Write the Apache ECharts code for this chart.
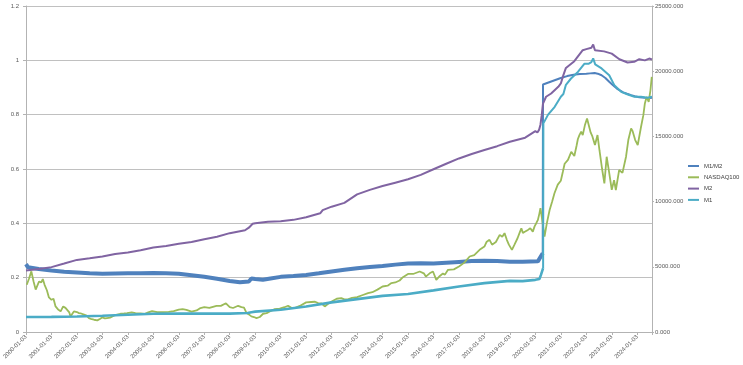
<!DOCTYPE html>
<html><head><meta charset="utf-8">
<script src="https://cdn.jsdelivr.net/npm/echarts@6/dist/echarts.min.js"></script>
<style>html,body{margin:0;padding:0;background:#fff}#c{width:743px;height:365px}</style>
</head><body><div id="c"></div>
<script>
// x positions are decimal years
const yearLabels = ['2000-01-03','2001-01-03','2002-01-03','2003-01-03','2004-01-03','2005-01-03','2006-01-03','2007-01-03','2008-01-03','2009-01-03','2010-01-03','2011-01-03','2012-01-03','2013-01-03','2014-01-03','2015-01-03','2016-01-03','2017-01-03','2018-01-03','2019-01-03','2020-01-03','2021-01-03','2022-01-03','2023-01-03','2024-01-03'];

// M1/M2 ratio (left axis)
const ratioT = [2000.00,2000.08,2000.5,2001.0,2001.5,2002.0,2002.5,2003.0,2003.5,2004.0,2004.5,2005.0,2005.5,2006.0,2006.5,2007.0,2007.5,2008.0,2008.4,2008.75,2008.85,2009.0,2009.3,2009.6,2010.0,2010.5,2011.0,2011.5,2012.0,2012.5,2013.0,2013.5,2014.0,2014.5,2015.0,2015.5,2016.0,2016.5,2017.0,2017.5,2018.0,2018.5,2019.0,2019.5,2020.1,2020.2,2020.29,2020.30,2021.0,2021.25,2021.5,2021.75,2022.0,2022.15,2022.33,2022.45,2022.6,2022.75,2022.9,2023.05,2023.2,2023.3,2023.45,2023.6,2023.76,2023.9,2024.08,2024.3,2024.47,2024.58];
const ratioV = [0.250,0.238,0.232,0.226,0.222,0.219,0.216,0.214,0.215,0.216,0.216,0.217,0.216,0.214,0.209,0.203,0.196,0.188,0.183,0.186,0.197,0.195,0.192,0.197,0.203,0.206,0.210,0.216,0.223,0.229,0.235,0.239,0.243,0.248,0.252,0.253,0.252,0.255,0.258,0.261,0.262,0.261,0.259,0.259,0.260,0.276,0.290,0.911,0.935,0.942,0.947,0.950,0.951,0.952,0.953,0.951,0.945,0.935,0.921,0.908,0.896,0.890,0.882,0.877,0.872,0.868,0.864,0.862,0.861,0.862];

// NASDAQ100 (right axis)
const ndxT = [2000.03,2000.12,2000.21,2000.30,2000.38,2000.51,2000.60,2000.66,2000.73,2000.82,2000.90,2001.00,2001.08,2001.16,2001.25,2001.36,2001.46,2001.55,2001.62,2001.70,2001.75,2001.82,2001.88,2002.00,2002.08,2002.16,2002.28,2002.38,2002.47,2002.58,2002.67,2002.80,2002.90,2002.99,2003.10,2003.18,2003.30,2003.45,2003.58,2003.71,2003.85,2003.97,2004.15,2004.30,2004.50,2004.65,2004.80,2004.95,2005.15,2005.39,2005.60,2005.80,2006.00,2006.15,2006.30,2006.50,2006.70,2006.85,2007.00,2007.20,2007.48,2007.65,2007.85,2008.00,2008.13,2008.33,2008.46,2008.56,2008.66,2008.75,2008.85,2008.95,2009.05,2009.18,2009.31,2009.45,2009.57,2009.77,2009.96,2010.15,2010.29,2010.42,2010.55,2010.75,2011.00,2011.20,2011.35,2011.47,2011.60,2011.73,2011.85,2012.00,2012.20,2012.38,2012.50,2012.64,2012.80,2013.00,2013.20,2013.43,2013.60,2013.80,2014.00,2014.20,2014.35,2014.50,2014.67,2014.80,2015.00,2015.20,2015.46,2015.62,2015.70,2015.85,2015.98,2016.11,2016.25,2016.37,2016.45,2016.57,2016.80,2017.00,2017.20,2017.42,2017.60,2017.81,2018.00,2018.08,2018.20,2018.30,2018.45,2018.60,2018.70,2018.79,2018.88,2018.96,2019.08,2019.18,2019.30,2019.38,2019.45,2019.51,2019.60,2019.71,2019.80,2019.90,2019.97,2020.05,2020.10,2020.16,2020.20,2020.25,2020.36,2020.45,2020.56,2020.66,2020.75,2020.88,2021.00,2021.08,2021.15,2021.28,2021.41,2021.53,2021.62,2021.67,2021.73,2021.80,2021.86,2021.95,2022.03,2022.10,2022.17,2022.24,2022.34,2022.44,2022.52,2022.62,2022.71,2022.80,2022.90,2023.00,2023.09,2023.16,2023.29,2023.42,2023.56,2023.65,2023.76,2023.82,2023.92,2024.02,2024.15,2024.24,2024.30,2024.37,2024.45,2024.52,2024.57];
const ndxV = [3620,4100,4650,3850,3250,3870,3800,4060,3620,3200,2650,2470,2550,1960,1750,1580,1960,1850,1710,1500,1190,1400,1580,1530,1450,1420,1330,1250,1070,980,940,890,1000,1120,1040,1070,1100,1250,1330,1400,1420,1450,1500,1450,1430,1380,1500,1600,1520,1520,1540,1600,1720,1760,1700,1560,1650,1840,1910,1850,2010,2000,2200,1910,1840,2010,1910,1870,1450,1350,1200,1150,1070,1150,1400,1450,1580,1750,1800,1900,2010,1850,1840,2000,2270,2300,2320,2220,2200,1960,2150,2340,2550,2600,2500,2500,2620,2680,2820,2980,3050,3250,3490,3550,3750,3800,3950,4200,4450,4450,4640,4500,4250,4500,4640,4000,4300,4480,4400,4770,4800,5020,5300,5790,5900,6300,6550,6900,7070,6700,6900,7450,7300,7580,7070,6700,6300,6700,7190,7600,7960,7600,7700,7830,7960,7700,8100,8400,8600,9100,9490,8850,7320,8330,9360,10000,10640,11300,11600,12290,12900,13200,13820,13500,14300,14800,15100,15360,15100,15900,16380,16250,15300,15000,14340,15100,13900,12500,11400,13440,12200,10900,11650,10890,12420,12200,13440,14720,15610,15400,14720,14340,15740,16630,17530,18040,17650,18550,19560,20380,18800];

// M2 (right axis)
const m2T = [2000.0,2000.5,2001.0,2001.5,2002.0,2002.5,2003.0,2003.5,2004.0,2004.5,2005.0,2005.5,2006.0,2006.5,2007.0,2007.5,2008.0,2008.6,2008.75,2008.9,2009.0,2009.5,2010.0,2010.5,2011.0,2011.55,2011.65,2012.0,2012.5,2013.0,2013.5,2014.0,2014.5,2015.0,2015.5,2016.0,2016.5,2017.0,2017.5,2018.0,2018.5,2019.0,2019.6,2020.0,2020.08,2020.15,2020.2,2020.25,2020.3,2020.42,2020.62,2020.9,2021.0,2021.1,2021.2,2021.53,2021.86,2022.0,2022.2,2022.27,2022.34,2022.7,2023.0,2023.3,2023.62,2023.88,2024.08,2024.3,2024.47,2024.58];
const m2V = [4710,4830,4975,5250,5530,5650,5790,5980,6090,6270,6480,6600,6760,6900,7120,7300,7580,7800,8000,8300,8340,8450,8500,8600,8800,9100,9350,9610,9900,10550,10900,11190,11450,11710,12050,12480,12900,13310,13650,13960,14250,14590,14900,15400,15300,15520,15900,16630,17520,18040,18290,18800,19060,19700,20250,20770,21610,21690,21800,22040,21610,21520,21350,20920,20670,20720,20920,20830,20970,20900];

// M1 (right axis)
const m1T = [2000.0,2001.0,2002.0,2003.0,2004.0,2005.0,2006.0,2007.0,2008.0,2008.7,2008.85,2009.0,2010.0,2011.0,2012.0,2013.0,2014.0,2015.0,2016.0,2017.0,2018.0,2019.0,2019.5,2020.0,2020.16,2020.22,2020.305,2020.315,2020.5,2020.76,2021.0,2021.1,2021.2,2021.4,2021.67,2021.93,2022.1,2022.2,2022.27,2022.35,2022.6,2022.9,2023.1,2023.37,2023.63,2023.89,2024.15,2024.4,2024.58];
const m1V = [1150,1160,1190,1250,1325,1400,1410,1410,1410,1460,1520,1560,1710,1960,2270,2520,2770,2910,3190,3490,3750,3920,3900,4000,4060,4380,4900,16000,16670,17270,18040,18250,18960,19440,19940,20580,20580,20700,20980,20520,20210,19690,18930,18420,18210,18040,18040,17960,18040];

const pairs = (t, v) => t.map((x, i) => [x, v[i]]);
function split(t, v, cut) {
  const all = pairs(t, v);
  const pre = all.filter(p => p[0] < cut);
  const post = [pre[pre.length - 1]].concat(all.filter(p => p[0] >= cut));
  return [pre, post];
}
const [ratioPre, ratioPost] = split(ratioT, ratioV, 2020.295);
const [m1Pre, m1Post] = split(m1T, m1V, 2020.31);

const C = { ratio: '#4F81BD', ndx: '#9BBB59', m2: '#8064A2', m1: '#4BACC6' };
const FONT = 'Liberation Sans';
const line = (name, data, color, width, yIdx) => ({
  name, type: 'line', data, yAxisIndex: yIdx, showSymbol: false, symbol: 'none',
  lineStyle: { color, width }, itemStyle: { color }, animation: false
});

const chart = echarts.init(document.getElementById('c'));
chart.setOption({
  animation: false,
  textStyle: { fontFamily: FONT },
  grid: { left: 26, top: 6, width: 626, height: 326 },
  legend: {
    orient: 'vertical', left: 688, top: 162, width: 55, icon: 'rect', itemWidth: 11, itemHeight: 2,
    itemGap: 3.3, padding: 0, data: ['M1/M2', 'NASDAQ100', 'M2', 'M1'],
    textStyle: { fontSize: 6, color: '#404040', lineHeight: 8, fontFamily: FONT, width: 40, overflow: 'none' }
  },
  xAxis: {
    type: 'value', min: 2000, max: 2024.58, interval: 1,
    axisLine: { lineStyle: { color: '#b3b3b3' } },
    axisTick: { show: true, length: 3, lineStyle: { color: '#b3b3b3' } },
    splitLine: { show: false },
    axisLabel: {
      rotate: 45, fontSize: 6, color: '#595959', margin: 4, fontFamily: FONT,
      formatter: v => (Number.isInteger(v) ? (yearLabels[v - 2000] || '') : '')
    }
  },
  yAxis: [
    {
      type: 'value', min: 0, max: 1.2, interval: 0.2, position: 'left',
      axisLine: { show: true, lineStyle: { color: '#b3b3b3' } },
      axisTick: { show: true, length: 3, lineStyle: { color: '#b3b3b3' } },
      splitLine: { lineStyle: { color: '#c0c0c0', width: 1 } },
      axisLabel: { fontSize: 6, color: '#595959', margin: 7, fontFamily: FONT }
    },
    {
      type: 'value', min: 0, max: 25000, interval: 5000, position: 'right',
      axisLine: { show: true, lineStyle: { color: '#b3b3b3' } },
      axisTick: { show: true, length: 2, lineStyle: { color: '#b3b3b3' } },
      splitLine: { show: false },
      axisLabel: { fontSize: 6, color: '#595959', margin: 3, fontFamily: FONT, formatter: v => v.toFixed(3) }
    }
  ],
  series: [
    line('M1/M2', ratioPre, C.ratio, 4, 0),
    line('M1/M2', ratioPost, C.ratio, 2, 0),
    line('NASDAQ100', pairs(ndxT, ndxV), C.ndx, 1.8, 1),
    line('M2', pairs(m2T, m2V), C.m2, 2, 1),
    line('M1', m1Pre, C.m1, 2.6, 1),
    line('M1', m1Post, C.m1, 2, 1)
  ]
});
</script></body></html>
